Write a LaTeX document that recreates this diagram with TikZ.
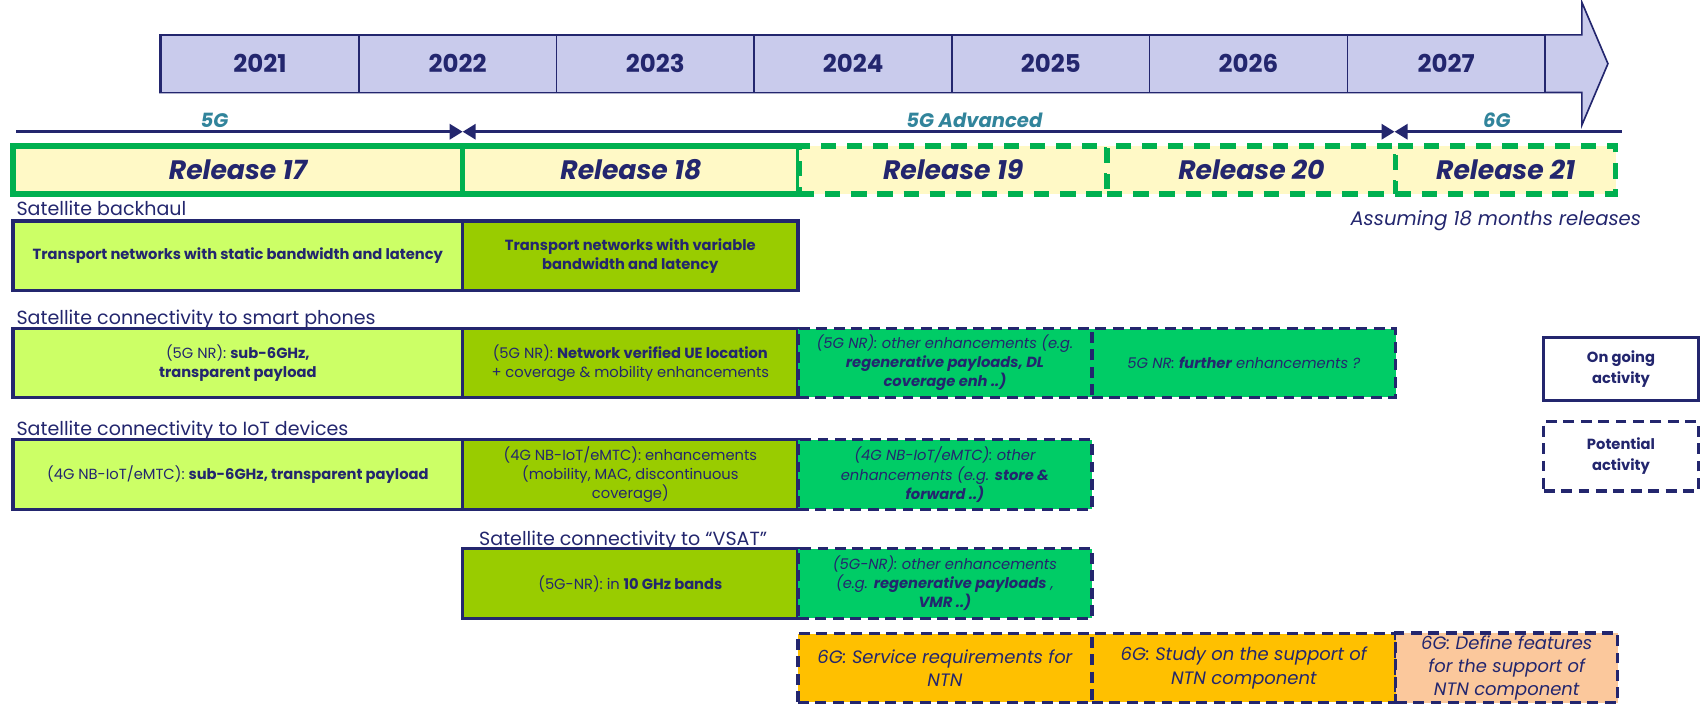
\documentclass[tikz,border=0pt]{standalone}
\usepackage{fontspec}
\setmainfont{Poppins}
\usepackage{xcolor}
\usepackage{tikz}
\usetikzlibrary{arrows.meta}

\definecolor{navy}{HTML}{23266E}
\definecolor{lavender}{HTML}{C9CBEC}
\definecolor{relyellow}{HTML}{FFF9C6}
\definecolor{relgreen}{HTML}{00B050}
\definecolor{eracol}{HTML}{31849B}
\definecolor{limefill}{HTML}{CCFF66}
\definecolor{olivefill}{HTML}{99CC00}
\definecolor{greenfill}{HTML}{00CC66}
\definecolor{orangefill}{HTML}{FFC000}
\definecolor{peachfill}{HTML}{FBC89C}

\tikzset{
    year/.style={draw=navy, line width=1.5pt, fill=lavender, minimum width=181.6pt, minimum height=53pt, text=navy, font=\fontsize{22.5}{24}\selectfont\bfseries},
    release/.style={draw=relgreen, line width=5pt, fill=relyellow, minimum height=44pt, text=navy, font=\fontsize{24.5}{26}\selectfont\bfseries\itshape},
    releasedash/.style={release, dash pattern=on 14pt off 10pt},
    era/.style={draw=navy, line width=2.5pt},
    eratip/.tip={Triangle[length=12pt, width=14pt]},
    eralabel/.style={anchor=base, text=eracol, inner sep=0pt, font=\fontsize{18}{20}\selectfont\bfseries\itshape},
    rowtitle/.style={anchor=base west, text=navy, inner sep=0pt, font=\fontsize{17.5}{19}\selectfont},
    ongoing/.style={draw=navy, line width=3pt, text=navy, align=center, inner sep=2pt, font=\fontsize{13.5}{17.5}\selectfont},
    potential/.style={ongoing, dash pattern=on 10pt off 6pt, font=\fontsize{13.5}{17.5}\selectfont\itshape},
    sixg/.style={potential, font=\fontsize{16.5}{21.5}\selectfont\itshape}
}

\begin{document}
\begin{tikzpicture}[x=1pt, y=-1pt]
    \useasboundingbox (0,0) rectangle (1568,648);

    % Year arrow
    \filldraw[fill=lavender, draw=navy, line width=1.5pt] (147,32) -- (1453,32) -- (1453,2) -- (1477,58.5) -- (1453,115) -- (1453,85) -- (147,85) -- cycle;
    \foreach \yr [count=\i from 0] in {2021,2022,2023,2024,2025,2026,2027}
        \node [year] (y\yr) at (238.8+181.6*\i, 58.5) {\yr};

    % Eras
    \coordinate (e0) at (15,121);
    \coordinate (e1) at (425,121);
    \coordinate (e2) at (1281,121);
    \coordinate (e3) at (1490,121);
    \draw [era, -eratip] (e0) -- (e1);
    \draw [era, eratip-eratip] (e1) -- (e2);
    \draw [era, eratip-] (e2) -- (e3);
    \node [eralabel] (g5) at (197,117) {5G};
    \node [eralabel] (g5a) at (895,117) {5G Advanced};
    \node [eralabel] (g6) at (1375,117) {6G};

    % Releases
    \node [release, minimum width=413pt] (r17) at (218.5,156) {Release 17};
    \node [release, minimum width=309pt] (r18) at (579.5,156) {Release 18};
    \node [releasedash, minimum width=283pt] (r19) at (875.5,156) {Release 19};
    \node [releasedash, minimum width=265pt] (r20) at (1149.5,156) {Release 20};
    \node [releasedash, minimum width=202pt] (r21) at (1383,156) {Release 21};
    \node [anchor=base east, text=navy, font=\fontsize{18}{20}\selectfont\itshape] (assume) at (1511,207) {Assuming 18 months releases};

    % Satellite backhaul
    \node [rowtitle] (tbh) at (15,198) {Satellite backhaul};
    \node [ongoing, fill=limefill, minimum width=413pt, minimum height=64pt] (bh1) at (218.5,235) {\textbf{Transport networks with static bandwidth and latency}};
    \node [ongoing, fill=olivefill, minimum width=308pt, minimum height=64pt] (bh2) at (579,235) {\textbf{Transport networks with variable}\\\textbf{bandwidth and latency}};

    % Smart phones
    \node [rowtitle] (tsp) at (15,298) {Satellite connectivity to smart phones};
    \node [ongoing, fill=limefill, minimum width=413pt, minimum height=63pt] (sp1) at (218.5,333.5) {(5G NR): \textbf{sub-6GHz,}\\\textbf{transparent payload}};
    \node [ongoing, fill=olivefill, minimum width=308pt, minimum height=63pt] (sp2) at (579,333.5) {(5G NR): \textbf{Network verified UE location}\\+ coverage \& mobility enhancements};
    \node [potential, fill=greenfill, minimum width=270pt, minimum height=63pt] (sp3) at (868,333.5) {(5G NR): other enhancements (e.g.\\\textbf{regenerative payloads, DL}\\\textbf{coverage enh ..)}};
    \node [potential, fill=greenfill, minimum width=279pt, minimum height=63pt] (sp4) at (1142.5,333.5) {5G NR: \textbf{further} enhancements ?};

    % IoT devices
    \node [rowtitle] (tiot) at (15,400) {Satellite connectivity to IoT devices};
    \node [ongoing, fill=limefill, minimum width=413pt, minimum height=64pt] (iot1) at (218.5,436) {(4G NB-IoT/eMTC): \textbf{sub-6GHz, transparent payload}};
    \node [ongoing, fill=olivefill, minimum width=308pt, minimum height=64pt] (iot2) at (579,436) {(4G NB-IoT/eMTC): enhancements\\(mobility, MAC, discontinuous\\coverage)};
    \node [potential, fill=greenfill, minimum width=270pt, minimum height=64pt] (iot3) at (868,436) {(4G NB-IoT/eMTC): other\\enhancements (e.g. \textbf{store \&}\\\textbf{forward ..)}};

    % VSAT
    \node [rowtitle] (tvs) at (440,501) {Satellite connectivity to “VSAT”};
    \node [ongoing, fill=olivefill, minimum width=308pt, minimum height=64pt] (vs1) at (579,536) {(5G-NR): in \textbf{10 GHz bands}};
    \node [potential, fill=greenfill, minimum width=270pt, minimum height=64pt] (vs2) at (868,536) {(5G-NR): other enhancements\\(e.g. \textbf{regenerative payloads} ,\\\textbf{VMR ..)}};

    % 6G
    \node [sixg, fill=orangefill, minimum width=270pt, minimum height=63pt] (six1) at (868,613.5) {6G: Service requirements for\\NTN};
    \node [sixg, fill=orangefill, minimum width=279pt, minimum height=63pt] (six2) at (1142.5,613.5) {6G: Study on the support of\\NTN component};
    \node [sixg, fill=peachfill, minimum width=204pt, minimum height=63pt] (six3) at (1384,613.5) {6G: Define features\\for the support of\\NTN component};

    % Legend
    \node [ongoing, fill=white, minimum width=142pt, minimum height=58pt, font=\fontsize{13.5}{19}\selectfont\bfseries] (legon) at (1489,339) {On going\\activity};
    \node [potential, fill=white, minimum width=142pt, minimum height=64pt, font=\fontsize{13.5}{19}\selectfont\bfseries] (legpot) at (1489,419) {Potential\\activity};
\end{tikzpicture}
\end{document}
